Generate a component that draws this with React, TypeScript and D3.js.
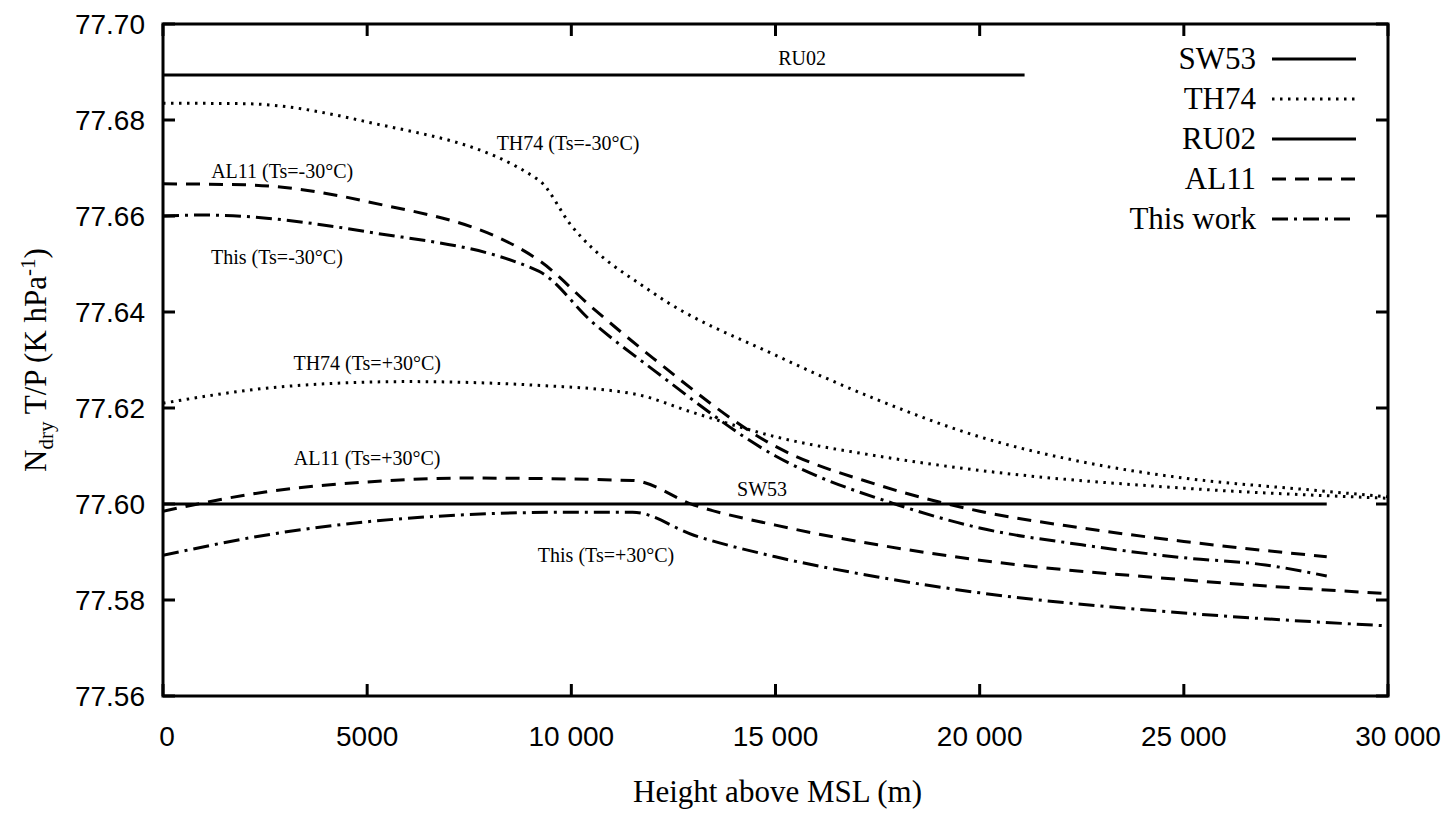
import React from 'react';
import * as d3 from 'd3';

type P = [number, number];

const th74Cold: P[] = [[0, 77.6835], [2000, 77.6834], [5000, 77.6796], [9200, 77.6675], [10000, 77.658], [12000, 77.644], [15000, 77.631], [17500, 77.6217], [20000, 77.614], [22500, 77.6088], [25000, 77.6054], [28000, 77.603], [30000, 77.6015]];
const th74Warm: P[] = [[0, 77.621], [3000, 77.6245], [6000, 77.6255], [9000, 77.6248], [11500, 77.623], [13000, 77.619], [15000, 77.614], [17500, 77.61], [20000, 77.607], [25000, 77.6033], [30000, 77.6012]];
const al11Cold: P[] = [[0, 77.6667], [2000, 77.6665], [5000, 77.663], [9200, 77.6508], [10500, 77.641], [12000, 77.6304], [15000, 77.612], [17500, 77.604], [20000, 77.5985], [22500, 77.595], [25000, 77.5922], [28500, 77.589]];
const thisCold: P[] = [[0, 77.66], [1000, 77.6602], [5000, 77.6567], [9200, 77.6485], [10500, 77.638], [12000, 77.628], [15000, 77.61], [18000, 77.5998], [20000, 77.595], [22500, 77.5915], [25000, 77.5888], [27000, 77.5873], [28500, 77.585]];
const al11Warm: P[] = [[0, 77.5985], [2500, 77.6025], [5000, 77.6046], [7500, 77.6054], [11500, 77.6049], [13000, 77.5998], [15000, 77.5956], [17500, 77.5915], [20000, 77.5883], [25000, 77.5842], [30000, 77.5813]];
const thisWarm: P[] = [[0, 77.5893], [2500, 77.5935], [5000, 77.5963], [7500, 77.5978], [10000, 77.5983], [11500, 77.5983], [13000, 77.5935], [15000, 77.589], [17500, 77.5848], [20000, 77.5815], [25000, 77.5773], [30000, 77.5746]];
const sw53: P[] = [[0, 77.6], [28500, 77.6]];
const ru02: P[] = [[0, 77.6894], [21100, 77.6894]];

const xTicks = [0, 5000, 10000, 15000, 20000, 25000, 30000];
const yTicks = [77.56, 77.58, 77.6, 77.62, 77.64, 77.66, 77.68, 77.7];

const DOT = '2.5,5.5';
const DASH = '14,9';
const DASHDOT = '16,6,3,6';

const legend = [
  { name: 'SW53', dash: '' },
  { name: 'TH74', dash: DOT },
  { name: 'RU02', dash: '' },
  { name: 'AL11', dash: DASH },
  { name: 'This work', dash: DASHDOT },
];

const annotations: { text: string; x: number; y: number }[] = [
  { text: 'RU02', x: 15650, y: 77.6914 },
  { text: 'TH74 (Ts=-30°C)', x: 9920, y: 77.6737 },
  { text: 'AL11 (Ts=-30°C)', x: 2920, y: 77.668 },
  { text: 'This (Ts=-30°C)', x: 2790, y: 77.6499 },
  { text: 'TH74 (Ts=+30°C)', x: 5000, y: 77.6279 },
  { text: 'AL11 (Ts=+30°C)', x: 5000, y: 77.6081 },
  { text: 'SW53', x: 14670, y: 77.6017 },
  { text: 'This (Ts=+30°C)', x: 10850, y: 77.5879 },
];

const W = 1456, H = 823;
const L = 163, R = 1388, T = 24, B = 696;
const serif = '"Liberation Serif", "DejaVu Serif", serif';
const sans = '"Liberation Sans", Arial, sans-serif';

export default function App() {
  const x = d3.scaleLinear().domain([0, 30000]).range([L, R]);
  const y = d3.scaleLinear().domain([77.56, 77.7]).range([B, T]);
  const line = d3.line<P>().x(d => x(d[0])).y(d => y(d[1])).curve(d3.curveMonotoneX);
  const fmt = (v: number) => (v >= 10000 ? d3.format(',')(v).replace(',', ' ') : String(v));
  const series: { d: P[]; dash: string }[] = [
    { d: ru02, dash: '' }, { d: sw53, dash: '' },
    { d: th74Cold, dash: DOT }, { d: th74Warm, dash: DOT },
    { d: al11Cold, dash: DASH }, { d: al11Warm, dash: DASH },
    { d: thisCold, dash: DASHDOT }, { d: thisWarm, dash: DASHDOT },
  ];
  return (
    <svg width={W} height={H} style={{ position: 'absolute', left: 0, top: 0, background: '#fff' }} fontFamily={serif}>
      <defs><clipPath id="c"><rect x={L} y={T} width={R - L} height={B - T} /></clipPath></defs>
      {series.map((s, i) => (
        <path key={i} d={line(s.d)!} fill="none" stroke="#000" strokeWidth={3} strokeDasharray={s.dash || undefined} clipPath="url(#c)" />
      ))}
      {xTicks.map(t => (
        <g key={t}>
          <line x1={x(t)} x2={x(t)} y1={B} y2={B - 12} stroke="#000" strokeWidth={3} />
          <line x1={x(t)} x2={x(t)} y1={T} y2={T + 12} stroke="#000" strokeWidth={3} />
          <text x={x(t) + (t === 0 ? 4 : t === 30000 ? 10 : 0)} y={B + 50} fontSize={28} fontFamily={sans} textAnchor="middle">{fmt(t)}</text>
        </g>
      ))}
      {yTicks.map(t => (
        <g key={t}>
          <line x1={L} x2={L + 12} y1={y(t)} y2={y(t)} stroke="#000" strokeWidth={3} />
          <line x1={R} x2={R - 12} y1={y(t)} y2={y(t)} stroke="#000" strokeWidth={3} />
          <text x={L - 18} y={y(t) + 10} fontSize={28} fontFamily={sans} textAnchor="end">{t.toFixed(2)}</text>
        </g>
      ))}
      <rect x={L} y={T} width={R - L} height={B - T} fill="none" stroke="#000" strokeWidth={3} />
      {annotations.map(a => (
        <text key={a.text} x={x(a.x)} y={y(a.y)} fontSize={20} textAnchor="middle">{a.text}</text>
      ))}
      {legend.map((l, i) => (
        <g key={l.name}>
          <text x={1256} y={69 + i * 40} fontSize={31} textAnchor="end">{l.name}</text>
          <line x1={1272} x2={1356} y1={59 + i * 40} y2={59 + i * 40} stroke="#000" strokeWidth={3} strokeDasharray={l.dash || undefined} />
        </g>
      ))}
      <text x={(L + R) / 2 + 2} y={802} fontSize={31} textAnchor="middle">Height above MSL (m)</text>
      <text transform={`translate(46,${(T + B) / 2}) rotate(-90)`} fontSize={31} textAnchor="middle">
        N<tspan fontSize={21} dy={7}>dry</tspan><tspan dy={-7}> T/P (K hPa</tspan><tspan fontSize={21} dy={-11}>-1</tspan><tspan dy={11}>)</tspan>
      </text>
    </svg>
  );
}
